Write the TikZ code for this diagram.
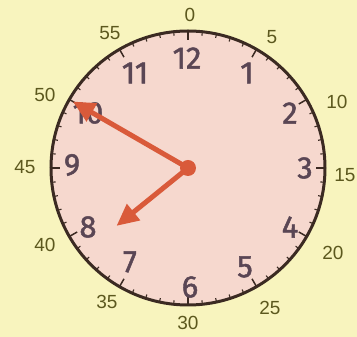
\documentclass[tikz,border=0pt]{standalone}
\usepackage{fontspec}
\setmainfont{Liberation Sans}
\newfontfamily\dialfont[FakeBold=1.5]{Fira Sans}
\usetikzlibrary{arrows.meta,calc}
\definecolor{bgyellow}{HTML}{F8F4BE}
\definecolor{facepink}{HTML}{F6D8CE}
\definecolor{rimbrown}{HTML}{3B2A22}
\definecolor{handred}{HTML}{D95A3A}
\definecolor{numpurple}{HTML}{5A4654}
\definecolor{olive}{HTML}{5C581E}
\tikzset{
  hournum/.style={text=numpurple, font=\dialfont\fontsize{31}{31}\selectfont, inner sep=0pt},
  minlabel/.style={text=olive, font=\fontsize{19}{19}\selectfont, inner sep=0pt},
  hand/.style={draw=handred, line width=5pt, -{Triangle[length=22pt,width=20pt]}},
  minortick/.style={draw=rimbrown, line width=1.1pt},
  majortick/.style={draw=rimbrown, line width=1.5pt}
}
\begin{document}
\begin{tikzpicture}[x=1pt,y=1pt]
\useasboundingbox (0,0) rectangle (357,337);
\fill[bgyellow] (0,0) rectangle (357,337);
\coordinate (C) at (188,169);
\fill[facepink] (C) circle (137);
% ticks
\foreach \m in {0,...,59}{
  \pgfmathsetmacro\ang{90-6*\m}
  \pgfmathtruncatemacro\isfive{mod(\m,5)==0}
  \ifnum\isfive=1
    \draw[majortick] ($(C)+(\ang:137)$) -- ($(C)+(\ang:128)$);
  \else
    \draw[minortick] ($(C)+(\ang:137)$) -- ($(C)+(\ang:133)$);
  \fi
}
\draw[rimbrown, line width=3pt] (C) circle (137);
% hour numbers
\node[hournum] (h12) at (187,279) {12};
\node[hournum] (h1) at (247,264) {1};
\node[hournum] (h2) at (290,224) {2};
\node[hournum] (h3) at (305,169) {3};
\node[hournum] (h4) at (290,110) {4};
\node[hournum] (h5) at (245,70) {5};
\node[hournum] (h6) at (190,50) {6};
\node[hournum] (h7) at (130,75) {7};
\node[hournum] (h8) at (88,110) {8};
\node[hournum] (h9) at (72,172) {9};
\node[hournum] (h10) at (88,224) {10};
\node[hournum] (h11) at (135,264) {11};
% minute labels
\node[minlabel] (m0) at (190,322) {0};
\node[minlabel] (m5) at (272,300) {5};
\node[minlabel] (m10) at (337,235) {10};
\node[minlabel] (m15) at (345,162) {15};
\node[minlabel] (m20) at (333,84) {20};
\node[minlabel] (m25) at (270,29) {25};
\node[minlabel] (m30) at (188,14) {30};
\node[minlabel] (m35) at (107,35) {35};
\node[minlabel] (m40) at (45,92) {40};
\node[minlabel] (m45) at (25,170) {45};
\node[minlabel] (m50) at (45,242) {50};
\node[minlabel] (m55) at (110,304) {55};
% hands
\coordinate (mtip) at ($(C)+(150:133)$);
\coordinate (htip) at ($(C)+(219:92)$);
\draw[hand] (C) -- (mtip);
\draw[hand] (C) -- (htip);
\fill[handred] (C) circle (8);
\end{tikzpicture}
\end{document}
